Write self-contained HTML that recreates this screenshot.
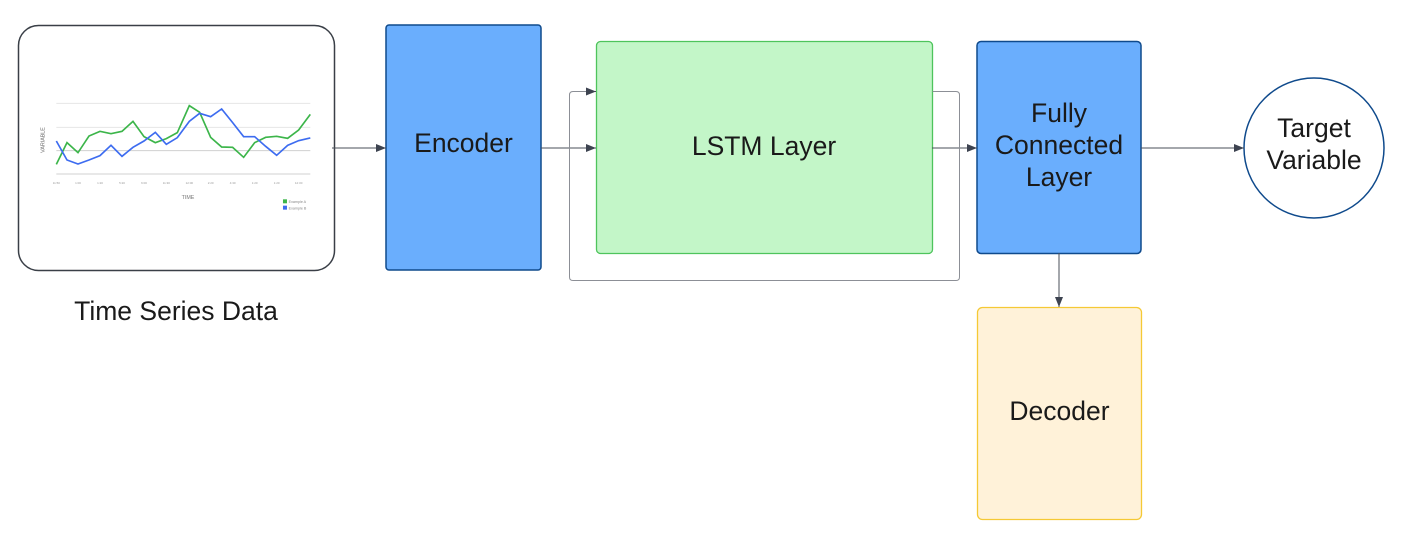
<!DOCTYPE html>
<html><head><meta charset="utf-8"><style>
html,body{margin:0;padding:0;background:#fff;}
svg{display:block;font-family:"Liberation Sans",Arial,sans-serif;}
</style></head><body>
<svg width="1422" height="536" viewBox="0 0 1422 536" xmlns="http://www.w3.org/2000/svg">
<defs>
<marker id="ar" markerWidth="10" markerHeight="8" refX="10" refY="4" orient="auto" markerUnits="userSpaceOnUse">
<path d="M0,0 L10,4 L0,8 z" fill="#3d4350"/></marker>
</defs>
<rect x="18.5" y="25.5" width="316" height="245" rx="20" fill="#fff" stroke="#3a3f47" stroke-width="1.5"/>
<g transform="translate(18,80) scale(0.3333)">
<g stroke="#e6e6e6" stroke-width="3">
<line x1="115" y1="70" x2="877" y2="70"/><line x1="115" y1="142" x2="877" y2="142"/>
<line x1="115" y1="212" x2="877" y2="212" stroke="#d0d0d0"/><line x1="115" y1="282" x2="877" y2="282" stroke="#d0d0d0"/>
</g>
<polyline fill="none" stroke="#3cb54a" stroke-width="5" points="115,253 147,188 180,218 213,168 246,154 279,161 312,154 345,124 378,170 412,188 445,176 478,158 514,77 545,97 578,172 611,201 644,202 677,232 710,188 743,172 776,169 809,175 842,150 877,103"/>
<polyline fill="none" stroke="#3d6cf0" stroke-width="5" points="115,183 147,240 180,252 213,240 246,227 279,196 312,229 345,202 378,183 412,157 445,193 478,173 514,124 545,100 578,110 611,87 644,128 677,170 710,170 743,199 776,226 809,196 842,182 877,174"/>
<text x="80" y="180" font-size="16" fill="#666" transform="rotate(-90 80 180)" text-anchor="middle">VARIABLE</text>
<g font-size="9" fill="#999" text-anchor="middle">
<text x="115" y="312">11:50</text><text x="180" y="312">1:00</text><text x="246" y="312">1:20</text><text x="312" y="312">5:20</text><text x="378" y="312">6:00</text><text x="445" y="312">11:30</text><text x="514" y="312">12:00</text><text x="578" y="312">2:20</text><text x="644" y="312">4:30</text><text x="710" y="312">1:20</text><text x="776" y="312">1:20</text><text x="842" y="312">12:30</text>
</g>
<text x="510" y="357" font-size="16" fill="#777" text-anchor="middle">TIME</text>
<rect x="795" y="358" width="12" height="12" fill="#3cb54a"/><text x="812" y="369" font-size="11" fill="#888">Example A</text>
<rect x="795" y="377" width="12" height="12" fill="#3d6cf0"/><text x="812" y="388" font-size="11" fill="#888">Example B</text>
</g>
<text x="176" y="320" font-size="26.5" fill="#1a1a1a" text-anchor="middle">Time Series Data</text>

<rect x="386" y="25" width="155" height="245" rx="3" fill="#6aaefd" stroke="#0f4a8c" stroke-width="1.5"/>
<text x="463.5" y="152" font-size="26.5" fill="#1a1a1a" text-anchor="middle">Encoder</text>

<rect x="596.5" y="41.5" width="336" height="212" rx="4" fill="#c3f6c8" stroke="#4ec45c" stroke-width="1.3"/>
<text x="764" y="155" font-size="26.5" fill="#1a1a1a" text-anchor="middle">LSTM Layer</text>

<rect x="977" y="41.5" width="164" height="212" rx="4" fill="#6aaefd" stroke="#0f4a8c" stroke-width="1.5"/>
<g font-size="26.5" fill="#1a1a1a" text-anchor="middle">
<text x="1059" y="122">Fully</text><text x="1059" y="154">Connected</text><text x="1059" y="186">Layer</text></g>

<rect x="977.5" y="307.5" width="164" height="212" rx="5" fill="#fff2d9" stroke="#f5c935" stroke-width="1.3"/>
<text x="1059.5" y="420" font-size="26.5" fill="#1a1a1a" text-anchor="middle">Decoder</text>

<circle cx="1314" cy="148" r="70" fill="#fff" stroke="#0f4a8c" stroke-width="1.5"/>
<g font-size="26.5" fill="#1a1a1a" text-anchor="middle"><text x="1314" y="137">Target</text><text x="1314" y="169">Variable</text></g>

<g stroke="#4a4f58" stroke-width="1" fill="none">
<line x1="332" y1="148" x2="386" y2="148" marker-end="url(#ar)"/>
<line x1="541" y1="148" x2="596" y2="148" marker-end="url(#ar)"/>
<line x1="932" y1="148" x2="977" y2="148" marker-end="url(#ar)"/>
<line x1="1141" y1="148" x2="1244" y2="148" marker-end="url(#ar)"/>
<line x1="1059" y1="253" x2="1059" y2="307" marker-end="url(#ar)"/>
</g>
<path d="M932.5,91.5 H956 Q959.5,91.5 959.5,95 V277 Q959.5,280.5 956,280.5 H573 Q569.5,280.5 569.5,277 V95 Q569.5,91.5 573,91.5 H586" fill="none" stroke="#8c8f96" stroke-width="1"/>
<line x1="586" y1="91.5" x2="596" y2="91.5" stroke="#4a4f58" marker-end="url(#ar)"/>
</svg>
</body></html>
